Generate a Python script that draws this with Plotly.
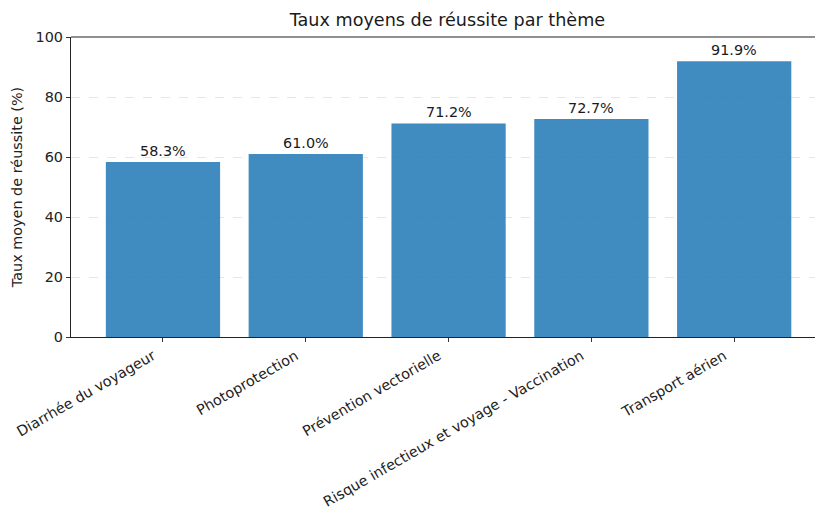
import plotly.graph_objects as go

categories = ["Diarrhée du voyageur", "Photoprotection", "Prévention vectorielle",
              "Risque infectieux et voyage - Vaccination", "Transport aérien"]
values = [58.3, 61.0, 71.2, 72.7, 91.9]
labels = [f"{v:.1f}%" for v in values]
yticks = [0, 20, 40, 60, 80, 100]

FONT = "DejaVu Sans"
FS = 14.4

fig = go.Figure()
fig.add_trace(go.Bar(
    x=categories, y=values, width=0.8,
    marker=dict(color="rgba(31,119,180,0.85)", line=dict(width=0)),
    hoverinfo="skip",
))

for c, v, t in zip(categories, values, labels):
    fig.add_annotation(x=c, y=v, text=t, showarrow=False, yanchor="bottom",
                       yshift=1, font=dict(family=FONT, size=FS, color="#1a1a1a"))

fig.add_shape(type="line", xref="paper", yref="paper", x0=0, x1=1, y0=1, y1=1,
              line=dict(color="#222", width=1.2))

fig.update_layout(
    width=815, height=508,
    margin=dict(l=71, r=0, t=37, b=171, autoexpand=False),
    paper_bgcolor="white", plot_bgcolor="white",
    showlegend=False,
    font=dict(family=FONT, color="#222"),
    title=dict(text="Taux moyens de réussite par thème", xref="container", x=0.549,
               xanchor="center", yref="container", y=1 - 20 / 508, yanchor="middle",
               font=dict(family=FONT, size=17.6, color="#1a1a1a")),
    xaxis=dict(range=[-0.644, 4.566], tickangle=-30, showline=True, linecolor="#222",
               linewidth=1.2, ticks="outside", ticklen=4, tickcolor="#333",
               tickfont=dict(family=FONT, size=FS, color="#222"), showgrid=False,
               zeroline=False, automargin=False, ticklabelshift=-10),
    yaxis=dict(range=[0, 100], tickvals=yticks, showline=True, linecolor="#222",
               linewidth=1.2, ticks="outside", ticklen=4, tickcolor="#333",
               tickfont=dict(family=FONT, size=FS, color="#222"),
               showgrid=True, gridcolor="#e6e6e6", griddash="dash", gridwidth=1,
               zeroline=False, automargin=False,
               title=dict(text="Taux moyen de réussite (%)", standoff=9,
                          font=dict(family=FONT, size=FS, color="#222"))),
)

fig.write_html("out.html", config={"displayModeBar": False},
               post_script="document.body.style.margin='0';")
